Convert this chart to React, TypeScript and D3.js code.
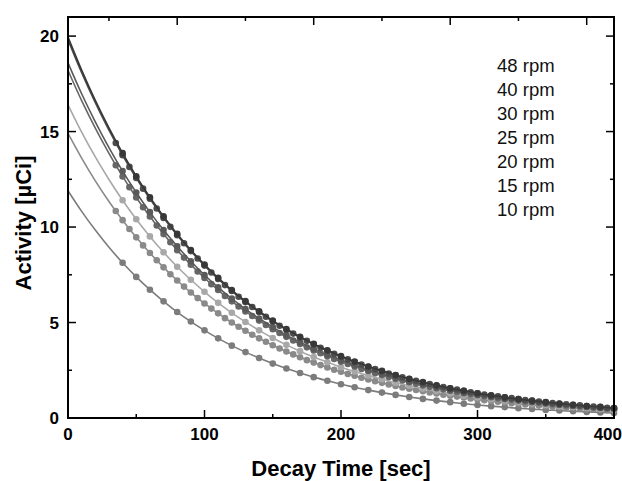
import { useRef, useEffect } from "react";
import * as d3 from "d3";

// decay time grid [sec]
const times = d3.range(0, 401, 10);
// sampling times of the denser runs (in between the main grid)
const timesB = d3.range(35, 396, 10);

const labels = ["48 rpm", "40 rpm", "30 rpm", "25 rpm", "20 rpm", "15 rpm", "10 rpm"];

// activity [uCi] at each time in `times`
const rpm48 = [19.95, 18.22, 16.63, 15.19, 13.87, 12.66, 11.56, 10.56, 9.64, 8.8, 8.04, 7.34, 6.7, 6.12, 5.59, 5.1, 4.66, 4.25, 3.88, 3.55, 3.24, 2.96, 2.7, 2.47, 2.25, 2.05, 1.88, 1.71, 1.56, 1.43, 1.3, 1.19, 1.09, 0.99, 0.91, 0.83, 0.76, 0.69, 0.63, 0.58, 0.52];
const rpm40 = [19.8, 18.08, 16.51, 15.07, 13.76, 12.57, 11.48, 10.48, 9.57, 8.74, 7.98, 7.28, 6.65, 6.07, 5.55, 5.06, 4.62, 4.22, 3.86, 3.52, 3.21, 2.93, 2.68, 2.45, 2.23, 2.04, 1.86, 1.7, 1.55, 1.42, 1.29, 1.18, 1.08, 0.99, 0.9, 0.82, 0.75, 0.69, 0.63, 0.57, 0.52];
const rpm30 = [18.6, 16.98, 15.51, 14.16, 12.93, 11.81, 10.78, 9.84, 8.99, 8.21, 7.49, 6.84, 6.25, 5.7, 5.21, 4.76, 4.34, 3.97, 3.62, 3.31, 3.02, 2.76, 2.52, 2.3, 2.1, 1.92, 1.75, 1.6, 1.46, 1.33, 1.22, 1.11, 1.01, 0.93, 0.85, 0.77, 0.7, 0.64, 0.59, 0.54, 0.49];
const rpm25 = [18.2, 16.62, 15.18, 13.86, 12.65, 11.55, 10.55, 9.63, 8.79, 8.03, 7.33, 6.7, 6.11, 5.58, 5.1, 4.65, 4.25, 3.88, 3.54, 3.24, 2.95, 2.7, 2.46, 2.25, 2.05, 1.87, 1.71, 1.56, 1.43, 1.3, 1.19, 1.09, 0.99, 0.91, 0.83, 0.76, 0.69, 0.63, 0.58, 0.53, 0.48];
const rpm20 = [16.4, 14.97, 13.67, 12.49, 11.4, 10.41, 9.51, 8.68, 7.92, 7.24, 6.61, 6.03, 5.51, 5.03, 4.59, 4.19, 3.83, 3.5, 3.19, 2.92, 2.66, 2.43, 2.22, 2.03, 1.85, 1.69, 1.54, 1.41, 1.29, 1.17, 1.07, 0.98, 0.89, 0.82, 0.75, 0.68, 0.62, 0.57, 0.52, 0.47, 0.43];
const rpm15 = [14.9, 13.61, 12.42, 11.34, 10.36, 9.46, 8.64, 7.89, 7.2, 6.57, 6.0, 5.48, 5.0, 4.57, 4.17, 3.81, 3.48, 3.18, 2.9, 2.65, 2.42, 2.21, 2.02, 1.84, 1.68, 1.53, 1.4, 1.28, 1.17, 1.07, 0.97, 0.89, 0.81, 0.74, 0.68, 0.62, 0.56, 0.52, 0.47, 0.43, 0.39];
const rpm10 = [11.9, 10.82, 9.84, 8.94, 8.13, 7.39, 6.72, 6.11, 5.55, 5.05, 4.59, 4.17, 3.79, 3.45, 3.14, 2.85, 2.59, 2.36, 2.14, 1.95, 1.77, 1.61, 1.46, 1.33, 1.21, 1.1, 1.0, 0.91, 0.83, 0.75, 0.68, 0.62, 0.57, 0.51, 0.47, 0.42, 0.39, 0.35, 0.32, 0.29, 0.26];

// extra measured points at `timesB`
const rpm40b = [14.4, 13.15, 12.01, 10.97, 10.01, 9.15, 8.35, 7.62, 6.96, 6.35, 5.81, 5.3, 4.83, 4.42, 4.04, 3.68, 3.36, 3.07, 2.8, 2.56, 2.33, 2.13, 1.95, 1.78, 1.62, 1.49, 1.35, 1.23, 1.13, 1.04, 0.94, 0.86, 0.78, 0.72, 0.66, 0.6, 0.54];
const rpm25b = [13.24, 12.09, 11.04, 10.08, 9.2, 8.4, 7.67, 7.01, 6.39, 5.84, 5.34, 4.87, 4.45, 4.06, 3.7, 3.39, 3.09, 2.83, 2.57, 2.35, 2.15, 1.96, 1.79, 1.63, 1.5, 1.36, 1.25, 1.14, 1.04, 0.95, 0.87, 0.8, 0.72, 0.66, 0.61, 0.55, 0.5];
const rpm15b = [10.84, 9.9, 9.04, 8.26, 7.53, 6.88, 6.28, 5.73, 5.23, 4.78, 4.36, 3.99, 3.64, 3.33, 3.03, 2.77, 2.53, 2.31, 2.11, 1.93, 1.76, 1.6, 1.47, 1.34, 1.22, 1.12, 1.02, 0.93, 0.85, 0.77, 0.71, 0.65, 0.59, 0.54, 0.49, 0.45, 0.41];

const xTicks = d3.range(0, 401, 50);
const xLabels = [0, 100, 200, 300, 400];
const topTicks = [30, 80, 130, 180, 230, 280, 330, 380];
const topMajor = [80, 180, 280, 380];
const yTicks = d3.range(0, 20.1, 2.5);
const yLabels = [0, 5, 10, 15, 20];

const series = [
  { name: "10 rpm", values: rpm10, extra: null, color: "#7c7c7c" },
  { name: "15 rpm", values: rpm15, extra: rpm15b, color: "#8a8a8a" },
  { name: "20 rpm", values: rpm20, extra: null, color: "#a8a8a8" },
  { name: "25 rpm", values: rpm25, extra: rpm25b, color: "#666666" },
  { name: "30 rpm", values: rpm30, extra: null, color: "#5a5a5a" },
  { name: "40 rpm", values: rpm40, extra: rpm40b, color: "#4c4c4c" },
  { name: "48 rpm", values: rpm48, extra: null, color: "#383838" },
];

export default function App() {
  const ref = useRef<SVGSVGElement>(null);

  useEffect(() => {
    if (!ref.current) return;
    const svg = d3.select(ref.current);
    svg.selectAll("*").remove();

    const W = 622,
      H = 481;
    const L = 68,
      R = 614,
      T = 17,
      B = 418;
    svg.attr("width", W).attr("height", H).attr("viewBox", `0 0 ${W} ${H}`);

    const x = d3.scaleLinear().domain([0, 400]).range([L, R]);
    const y = d3.scaleLinear().domain([0, 21]).range([B, T]);
    const font = "'Liberation Sans', Arial, sans-serif";

    const plot = svg.append("g");
    const line = d3
      .line<number>()
      .x((_, i) => x(times[i]))
      .y((d) => y(d))
      .curve(d3.curveMonotoneX);

    series.forEach((s) => {
      plot
        .append("path")
        .attr("d", line(s.values))
        .attr("fill", "none")
        .attr("stroke", s.color)
        .attr("stroke-width", 1.6);
      const pts = s.values.map((v, i) => [times[i], v]).filter((d) => d[0] >= 40);
      if (s.extra) s.extra.forEach((v, i) => pts.push([timesB[i], v]));
      plot
        .append("g")
        .selectAll("circle")
        .data(pts)
        .join("circle")
        .attr("cx", (d) => x(d[0]))
        .attr("cy", (d) => y(d[1]))
        .attr("r", 3.3)
        .attr("fill", s.color);
    });

    // frame
    svg
      .append("rect")
      .attr("x", L)
      .attr("y", T)
      .attr("width", R - L)
      .attr("height", B - T)
      .attr("fill", "none")
      .attr("stroke", "#000")
      .attr("stroke-width", 2);

    const ax = svg.append("g").attr("stroke", "#000").attr("stroke-width", 1.5);
    xTicks.forEach((t) => {
      const len = t % 100 === 0 ? 8 : 4;
      ax.append("line").attr("x1", x(t)).attr("x2", x(t)).attr("y1", B).attr("y2", B - len);
    });
    topTicks.forEach((t) => {
      const len = topMajor.includes(t) ? 8 : 4;
      ax.append("line").attr("x1", x(t)).attr("x2", x(t)).attr("y1", T).attr("y2", T + len);
    });
    yTicks.forEach((t) => {
      const len = t % 5 === 0 ? 8 : 4;
      ax.append("line").attr("x1", L).attr("x2", L + len).attr("y1", y(t)).attr("y2", y(t));
      ax.append("line").attr("x1", R).attr("x2", R - len).attr("y1", y(t)).attr("y2", y(t));
    });

    svg
      .append("g")
      .selectAll("text")
      .data(xLabels)
      .join("text")
      .attr("x", (d) => (d === 400 ? W : x(d)))
      .attr("y", B + 22)
      .attr("text-anchor", (d) => (d === 400 ? "end" : "middle"))
      .attr("font-family", font)
      .attr("font-weight", 700)
      .attr("font-size", 17)
      .text((d) => d);

    svg
      .append("g")
      .selectAll("text")
      .data(yLabels)
      .join("text")
      .attr("x", L - 9)
      .attr("y", (d) => y(d) + 6)
      .attr("text-anchor", "end")
      .attr("font-family", font)
      .attr("font-weight", 700)
      .attr("font-size", 17)
      .text((d) => d);

    svg
      .append("text")
      .attr("x", (L + R) / 2)
      .attr("y", 476)
      .attr("text-anchor", "middle")
      .attr("font-family", font)
      .attr("font-weight", 700)
      .attr("font-size", 22)
      .text("Decay Time [sec]");

    svg
      .append("text")
      .attr("transform", `translate(31,223) rotate(-90)`)
      .attr("text-anchor", "middle")
      .attr("font-family", font)
      .attr("font-weight", 700)
      .attr("font-size", 22)
      .text("Activity [µCi]");

    svg
      .append("g")
      .selectAll("text")
      .data(labels)
      .join("text")
      .attr("x", 497)
      .attr("y", (_, i) => 72 + i * 24)
      .attr("font-family", font)
      .attr("font-size", 18.5)
      .attr("fill", "#111")
      .text((d) => d);
  }, []);

  return <svg ref={ref} style={{ display: "block", position: "absolute", left: 0, top: 0 }} />;
}
